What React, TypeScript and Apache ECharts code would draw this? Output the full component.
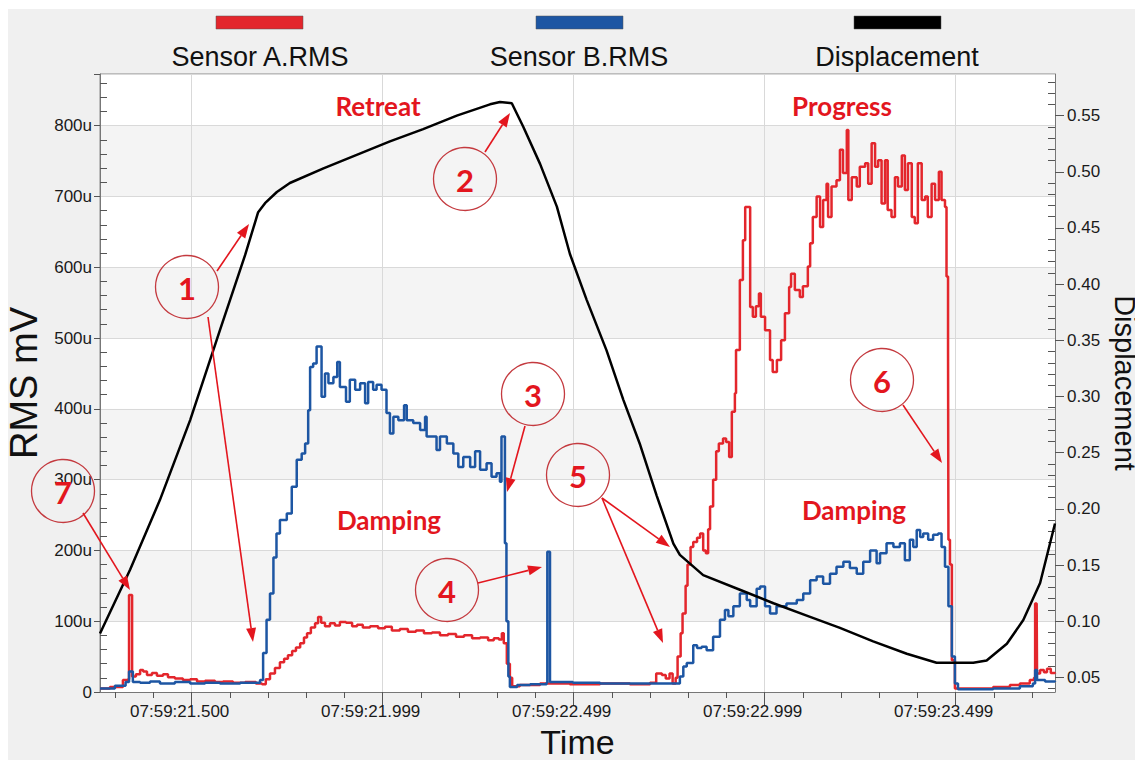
import React, { useEffect, useRef } from 'react';
import * as echarts from 'echarts';

const seriesNames = ['Sensor A.RMS', 'Sensor B.RMS', 'Displacement'];
const seriesColors = ['#e3262c', '#1d56a3', '#000000'];

const timeTickValues = [21.5, 22.0, 22.5, 23.0, 23.5];
const timeTickLabels = ['07:59:21.500', '07:59:21.999', '07:59:22.499', '07:59:22.999', '07:59:23.499'];
const displacementTickValues = [0.05, 0.1, 0.15, 0.2, 0.25, 0.3, 0.35, 0.4, 0.45, 0.5, 0.55];

// time (s after 07:59:00) , RMS (u)
const sensorA: [number, number][] = [
  [21.260, 5], [21.286, 7], [21.320, 17], [21.333, 18], [21.336, 137], [21.341, 137], [21.344, 22],
  [21.354, 25], [21.365, 31], [21.373, 29], [21.383, 24], [21.396, 27], [21.409, 23], [21.425, 25],
  [21.438, 21], [21.456, 19], [21.477, 17], [21.496, 18], [21.514, 15], [21.535, 16], [21.561, 14],
  [21.582, 15], [21.608, 13], [21.640, 14], [21.668, 12], [21.684, 11], [21.694, 18], [21.705, 26],
  [21.718, 34], [21.731, 42], [21.742, 47], [21.752, 52], [21.763, 58], [21.773, 63], [21.784, 69],
  [21.794, 77], [21.802, 83], [21.812, 91], [21.823, 97], [21.831, 106], [21.839, 98], [21.849, 93],
  [21.862, 97], [21.875, 94], [21.888, 99], [21.904, 98], [21.920, 93], [21.933, 95], [21.948, 91],
  [21.967, 93], [21.988, 90], [22.006, 92], [22.024, 87], [22.045, 89], [22.066, 85], [22.087, 87],
  [22.108, 83], [22.129, 84], [22.150, 80], [22.171, 82], [22.192, 78], [22.213, 80], [22.234, 76],
  [22.255, 77], [22.276, 73], [22.291, 76], [22.304, 74], [22.312, 83], [22.317, 69], [22.325, 40],
  [22.333, 20], [22.339, 8], [22.359, 10], [22.412, 12], [22.490, 11], [22.569, 12], [22.647, 11],
  [22.700, 13], [22.716, 26], [22.731, 24], [22.741, 19], [22.751, 26], [22.759, 12], [22.767, 20],
  [22.772, 50], [22.780, 83], [22.785, 111], [22.793, 150], [22.798, 180], [22.806, 205], [22.813, 212],
  [22.823, 218], [22.831, 224], [22.839, 200], [22.846, 196], [22.852, 230], [22.857, 262], [22.865, 300],
  [22.873, 340], [22.880, 351], [22.891, 358], [22.899, 353], [22.907, 332], [22.914, 396], [22.922, 422],
  [22.925, 483], [22.935, 582], [22.943, 638], [22.949, 685], [22.956, 685], [22.962, 544], [22.969, 530],
  [22.977, 545], [22.985, 563], [22.990, 530], [23.001, 511], [23.014, 469], [23.021, 452], [23.032, 469],
  [23.043, 497], [23.053, 535], [23.064, 572], [23.069, 591], [23.079, 568], [23.092, 558], [23.100, 573],
  [23.113, 601], [23.119, 634], [23.126, 671], [23.136, 700], [23.145, 657], [23.153, 695], [23.162, 718],
  [23.166, 671], [23.175, 714], [23.188, 723], [23.197, 766], [23.205, 733], [23.215, 794], [23.219, 695],
  [23.228, 727], [23.241, 714], [23.249, 742], [23.263, 747], [23.271, 718], [23.280, 775], [23.289, 742],
  [23.297, 751], [23.306, 690], [23.315, 751], [23.322, 681], [23.332, 671], [23.341, 727], [23.349, 714],
  [23.359, 758], [23.367, 709], [23.375, 747], [23.385, 671], [23.393, 662], [23.401, 747], [23.411, 695],
  [23.420, 700], [23.427, 671], [23.437, 718], [23.446, 695], [23.456, 735], [23.463, 695], [23.472, 685],
  [23.476, 587], [23.480, 483], [23.481, 215], [23.485, 180], [23.490, 45], [23.498, 5], [23.551, 5],
  [23.598, 7], [23.642, 10], [23.668, 12], [23.694, 17], [23.705, 20], [23.708, 125], [23.712, 125],
  [23.713, 26], [23.721, 31], [23.731, 28], [23.739, 33], [23.749, 27], [23.760, 26],
];

const sensorB: [number, number][] = [
  [21.260, 5], [21.299, 9], [21.327, 14], [21.336, 29], [21.341, 29], [21.346, 14], [21.365, 13],
  [21.391, 15], [21.417, 12], [21.456, 14], [21.496, 12], [21.535, 13], [21.574, 12], [21.627, 13],
  [21.671, 13], [21.679, 17], [21.687, 55], [21.696, 102], [21.705, 139], [21.714, 190], [21.722, 224],
  [21.731, 243], [21.749, 252], [21.762, 290], [21.775, 328], [21.788, 337], [21.797, 351], [21.805, 398],
  [21.810, 459], [21.818, 464], [21.827, 488], [21.834, 488], [21.840, 417], [21.849, 450], [21.858, 436],
  [21.871, 445], [21.881, 466], [21.888, 431], [21.904, 410], [21.914, 441], [21.928, 427], [21.941, 436],
  [21.954, 408], [21.962, 438], [21.975, 427], [21.984, 434], [21.997, 427], [22.010, 394], [22.019, 365],
  [22.028, 389], [22.041, 384], [22.056, 405], [22.063, 384], [22.080, 380], [22.098, 370], [22.111, 389],
  [22.115, 361], [22.133, 361], [22.141, 342], [22.150, 361], [22.168, 351], [22.185, 337], [22.198, 318],
  [22.211, 332], [22.229, 318], [22.242, 340], [22.255, 314], [22.272, 323], [22.285, 304], [22.298, 309],
  [22.307, 297], [22.311, 361], [22.315, 361], [22.320, 210], [22.324, 100], [22.329, 22], [22.333, 7],
  [22.352, 10], [22.386, 11], [22.429, 13], [22.431, 198], [22.435, 198], [22.438, 14], [22.498, 13],
  [22.569, 12], [22.674, 12], [22.769, 12], [22.778, 22], [22.787, 36], [22.796, 41], [22.813, 66],
  [22.823, 62], [22.835, 64], [22.848, 59], [22.865, 78], [22.883, 102], [22.896, 116], [22.905, 107],
  [22.918, 121], [22.935, 139], [22.953, 130], [22.962, 121], [22.979, 146], [22.988, 149], [23.001, 121],
  [23.014, 111], [23.031, 121], [23.057, 125], [23.084, 130], [23.101, 139], [23.119, 158], [23.136, 163],
  [23.153, 153], [23.171, 167], [23.188, 177], [23.206, 184], [23.223, 175], [23.241, 167], [23.258, 184],
  [23.276, 200], [23.293, 182], [23.302, 196], [23.319, 210], [23.337, 205], [23.354, 210], [23.367, 186],
  [23.380, 215], [23.389, 205], [23.398, 229], [23.407, 219], [23.415, 224], [23.428, 215], [23.441, 222],
  [23.454, 224], [23.463, 205], [23.472, 177], [23.481, 121], [23.490, 50], [23.498, 12], [23.506, 4],
  [23.598, 5], [23.668, 8], [23.702, 12], [23.708, 31], [23.713, 17], [23.734, 15], [23.760, 14],
];

const displacement: [number, number][] = [
  [21.260, 0.089], [21.339, 0.146], [21.417, 0.208], [21.496, 0.279], [21.574, 0.359], [21.640, 0.426],
  [21.674, 0.464], [21.692, 0.472], [21.723, 0.482], [21.757, 0.490], [21.845, 0.503], [21.932, 0.515],
  [22.019, 0.527], [22.106, 0.538], [22.194, 0.550], [22.281, 0.560], [22.307, 0.562], [22.338, 0.561],
  [22.368, 0.540], [22.412, 0.507], [22.456, 0.469], [22.490, 0.427], [22.534, 0.386], [22.586, 0.341],
  [22.630, 0.297], [22.674, 0.257], [22.717, 0.212], [22.761, 0.169], [22.778, 0.159], [22.839, 0.141],
  [22.935, 0.128], [23.023, 0.116], [23.110, 0.105], [23.197, 0.094], [23.284, 0.082], [23.372, 0.071],
  [23.450, 0.063], [23.546, 0.063], [23.581, 0.065], [23.634, 0.080], [23.677, 0.101], [23.721, 0.134],
  [23.760, 0.187],
];

const phaseLabels = [
  { text: 'Retreat', x: 378, y: 106 },
  { text: 'Progress', x: 842, y: 106 },
  { text: 'Damping', x: 389, y: 520 },
  { text: 'Damping', x: 854, y: 510 },
];
const callouts = [
  { n: '1', cx: 187, cy: 287 },
  { n: '2', cx: 465, cy: 179 },
  { n: '3', cx: 533, cy: 394 },
  { n: '4', cx: 447, cy: 590 },
  { n: '5', cx: 578, cy: 475 },
  { n: '6', cx: 882, cy: 380 },
  { n: '7', cx: 63, cy: 491 },
];
const arrows: [number, number, number, number][] = [
  [217, 271, 249, 224],
  [208, 317, 253, 642],
  [485, 152, 510, 113],
  [525, 426, 507, 492],
  [478, 583, 542, 567],
  [602, 498, 670, 547],
  [602, 498, 663, 643],
  [903, 405, 942, 463],
  [83, 513, 130, 590],
];
const legendItems = [
  { rx: 216, tx: 260 },
  { rx: 536, tx: 579 },
  { rx: 854, tx: 897 },
];

const ANN = '#e3161e';
const CIRCLE = '#c43a3f';
const FONT = 'Liberation Sans, Arial, sans-serif';
const BOLD_FONT = 'Lato, Calibri, sans-serif';

function range(a: number, b: number, step: number, skip: number) {
  const out: number[] = [];
  const n = Math.round((b - a) / step);
  for (let i = 0; i <= n; i++) {
    const v = +(a + i * step).toFixed(4);
    const r = v / skip;
    if (Math.abs(r - Math.round(r)) > 1e-6) out.push(v);
  }
  return out;
}
const xMinorTicks = range(21.3, 23.7, 0.1, 0.5);
const leftMinorTicks = range(20, 860, 20, 100);
const rightMinorTicks = range(0.04, 0.58, 0.01, 0.05);

function arrowEls(a: [number, number, number, number]) {
  const [x1, y1, x2, y2] = a;
  const dx = x2 - x1, dy = y2 - y1;
  const len = Math.hypot(dx, dy);
  const ux = dx / len, uy = dy / len;
  const hl = 14, hw = 5;
  const bx = x2 - ux * hl, by = y2 - uy * hl;
  return [
    { type: 'line', z: 100, silent: true, shape: { x1, y1, x2: bx, y2: by }, style: { stroke: ANN, lineWidth: 1.6 } },
    {
      type: 'polygon', z: 100, silent: true,
      shape: { points: [[x2, y2], [bx - uy * hw, by + ux * hw], [bx + uy * hw, by - ux * hw]] },
      style: { fill: ANN },
    },
  ];
}

export default function App() {
  const ref = useRef<HTMLDivElement>(null);
  useEffect(() => {
    if (!ref.current) return;
    const chart = echarts.init(ref.current, undefined, { renderer: 'svg' });

    const graphics: any[] = [
      { type: 'rect', z: -100, silent: true, shape: { x: 8, y: 9, width: 1127, height: 751 }, style: { fill: '#f0f0f0' } },
    ];
    legendItems.forEach((it, i) => {
      graphics.push({ type: 'rect', z: 100, shape: { x: it.rx, y: 16, width: 87, height: 13 }, style: { fill: seriesColors[i], stroke: '#555', lineWidth: 0.5 } });
      graphics.push({ type: 'text', z: 100, x: it.tx, y: 57, style: { text: seriesNames[i], fontSize: 27, fontFamily: FONT, fill: '#111', align: 'center', verticalAlign: 'middle' } });
    });
    phaseLabels.forEach((p) => {
      graphics.push({ type: 'text', z: 100, x: p.x, y: p.y, style: { text: p.text, fontSize: 26, fontWeight: 'bold', fontFamily: BOLD_FONT, fill: ANN, align: 'center', verticalAlign: 'middle' } });
    });
    callouts.forEach((c) => {
      graphics.push({ type: 'circle', z: 100, silent: true, shape: { cx: c.cx, cy: c.cy, r: 31.5 }, style: { fill: 'none', stroke: CIRCLE, lineWidth: 1.3 } });
      graphics.push({ type: 'text', z: 100, x: c.cx, y: c.cy + 1, style: { text: c.n, fontSize: 31, fontWeight: 'bold', fontFamily: BOLD_FONT, fill: ANN, align: 'center', verticalAlign: 'middle' } });
    });
    arrows.forEach((a) => graphics.push(...arrowEls(a)));

    const tickStyle = { color: '#555', width: 1 };
    const labelStyle = { fontSize: 17, color: '#1a1a1a', fontFamily: FONT };

    chart.setOption({
      animation: false,
      backgroundColor: '#ffffff',
      grid: {
        left: 100, right: 80, top: 74, bottom: 68,
        show: true, backgroundColor: '#ffffff', borderColor: '#8a8a8a', borderWidth: 1,
        outerBoundsMode: 'none', containLabel: false,
      },
      xAxis: [
        {
          type: 'value', min: 21.26, max: 23.76, position: 'bottom',
          axisLine: { show: true, lineStyle: { color: '#777' } },
          axisTick: { show: true, customValues: xMinorTicks, length: 6, lineStyle: tickStyle },
          axisLabel: {
            ...labelStyle, customValues: timeTickValues, margin: 11, padding: [0, 24, 0, 0],
            formatter: (v: number) => {
              const i = timeTickValues.findIndex((t) => Math.abs(t - v) < 1e-6);
              return i >= 0 ? timeTickLabels[i] : '';
            },
          },
          splitLine: { show: false },
          name: 'Time', nameLocation: 'middle', nameGap: 31,
          nameTextStyle: { fontSize: 34, color: '#111', fontFamily: FONT },
        },
        {
          type: 'value', min: 21.26, max: 23.76, position: 'bottom',
          axisLine: { show: false },
          axisTick: { show: true, customValues: timeTickValues, length: 13, lineStyle: tickStyle },
          axisLabel: { show: false },
          splitLine: { show: false },
        },
      ],
      yAxis: [
        {
          type: 'value', position: 'left', min: 0, max: 873, interval: 100,
          axisLine: { show: true, lineStyle: { color: '#777' } },
          axisTick: { show: true, length: 6, lineStyle: tickStyle },
          axisLabel: {
            ...labelStyle, margin: 8,
            formatter: (v: number) => (Math.round(v) % 100 !== 0 ? '' : v === 0 ? '0' : `${Math.round(v)}u`),
          },
          splitLine: { show: true, lineStyle: { color: '#d9d9d9', width: 1 } },
          splitArea: { show: true, areaStyle: { color: ['#ffffff', '#f4f4f4'] } },
          name: 'RMS mV', nameLocation: 'middle', nameGap: 55,
          nameTextStyle: { fontSize: 38, color: '#111', fontFamily: FONT },
        },
        {
          type: 'value', position: 'right', min: 0.037, max: 0.587,
          axisLine: { show: true, lineStyle: { color: '#777' } },
          axisTick: { show: true, customValues: displacementTickValues, length: 9, lineStyle: tickStyle },
          axisLabel: {
            ...labelStyle, customValues: displacementTickValues, margin: 12,
            formatter: (v: number) => {
              const r = v * 20;
              return Math.abs(r - Math.round(r)) < 1e-6 ? v.toFixed(2) : '';
            },
          },
          splitLine: { show: false },
          name: 'Displacement', nameLocation: 'middle', nameGap: 40, nameRotate: -90,
          nameTextStyle: { fontSize: 29, color: '#111', fontFamily: FONT },
        },
        {
          type: 'value', position: 'left', min: 0, max: 873,
          axisLine: { show: false },
          axisTick: { show: true, inside: true, customValues: leftMinorTicks, length: 7, lineStyle: tickStyle },
          axisLabel: { show: false }, splitLine: { show: false },
        },
        {
          type: 'value', position: 'right', min: 0.037, max: 0.587,
          axisLine: { show: false },
          axisTick: { show: true, inside: true, customValues: rightMinorTicks, length: 7, lineStyle: tickStyle },
          axisLabel: { show: false }, splitLine: { show: false },
        },
      ],
      series: [
        {
          name: seriesNames[0], type: 'line', xAxisIndex: 0, yAxisIndex: 0, data: sensorA,
          step: 'end', showSymbol: false, symbol: 'none',
          lineStyle: { color: seriesColors[0], width: 2.5 }, itemStyle: { color: seriesColors[0] },
          markLine: {
            silent: true, symbol: 'none', z: 1, label: { show: false },
            lineStyle: { color: '#d9d9d9', width: 1, type: 'solid' },
            data: timeTickValues.map((t) => ({ xAxis: t })),
          },
        },
        {
          name: seriesNames[1], type: 'line', xAxisIndex: 0, yAxisIndex: 0, data: sensorB,
          step: 'end', showSymbol: false, symbol: 'none',
          lineStyle: { color: seriesColors[1], width: 2.5 }, itemStyle: { color: seriesColors[1] },
        },
        {
          name: seriesNames[2], type: 'line', xAxisIndex: 0, yAxisIndex: 1, data: displacement,
          showSymbol: false, symbol: 'none',
          lineStyle: { color: seriesColors[2], width: 2.5 }, itemStyle: { color: seriesColors[2] },
        },
      ],
      graphic: graphics,
    });
    return () => chart.dispose();
  }, []);
  return <div ref={ref} style={{ position: 'absolute', left: 0, top: 0, width: 1135, height: 760 }} />;
}
